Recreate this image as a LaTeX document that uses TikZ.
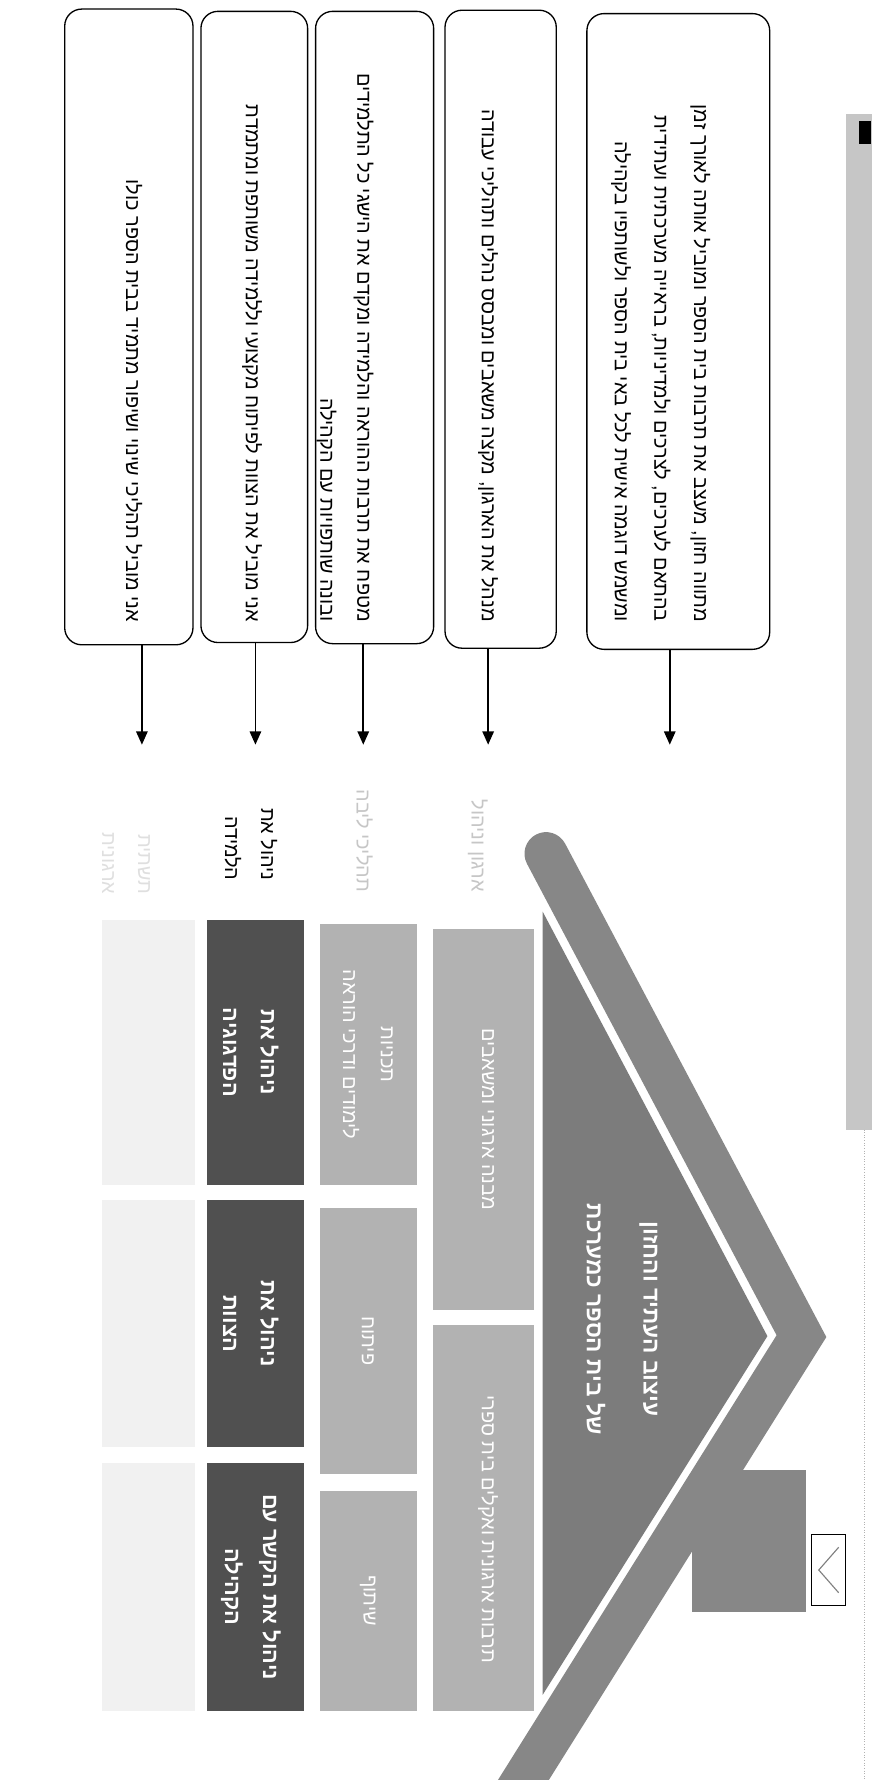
\documentclass[tikz,border=0pt]{standalone}
\usepackage{fontspec}
\newfontfamily\heb[Script=Hebrew]{Liberation Sans}
\TeXXeTstate=1
\usetikzlibrary{arrows.meta}
\definecolor{darkcell}{HTML}{505050}
\definecolor{lightcell}{HTML}{B2B2B2}
\definecolor{roofgray}{HTML}{878787}
\definecolor{ghost}{HTML}{F1F1F1}
\tikzset{
  tbox/.style={draw, rounded corners=9pt, line width=0.7pt, fill=white},
  btext/.style={rotate=-90, anchor=east, inner sep=0pt, align=right, font=\heb\fontsize{10.5}{19.5}\selectfont},
  cell/.style={inner sep=0pt, rotate=-90, align=center, text=white, font=\heb\bfseries\fontsize{11.5}{20}\selectfont},
  lbl/.style={rotate=-90, anchor=east, inner sep=0pt, align=right, font=\heb\fontsize{10.5}{19}\selectfont},
  arr/.style={-{Triangle[length=7pt,width=6pt]}, line width=0.9pt}
}
\begin{document}
\begin{tikzpicture}[x=0.6pt, y=-0.6pt]
\useasboundingbox (0,0) rectangle (770,1568);
% side bar and mark
\fill[gray!45] (745,100) rectangle (768,995);
\draw[gray!60, line width=0.4pt, densely dotted] (761,995) -- (761,1568);
\fill (757,107) rectangle (767,127);
% text boxes
\node[tbox, minimum width=113*0.6pt, minimum height=560*0.6pt] (b1) at (113.5,288) {};
\node[tbox, minimum width=94*0.6pt, minimum height=556*0.6pt] (b2) at (224,288) {};
\node[tbox, minimum width=104*0.6pt, minimum height=557*0.6pt] (b3) at (330,288.5) {};
\node[tbox, minimum width=98*0.6pt, minimum height=562*0.6pt] (b4) at (441,290) {};
\node[tbox, minimum width=161*0.6pt, minimum height=560*0.6pt] (b5) at (597.5,292) {};
\node[btext] (t1) at (118,548) {\beginR אני מוביל תהליכי שינוי ושיפור מתמיד בבית הספר כולו\endR};
\node[btext] (t2) at (222,548) {\beginR אני מוביל את הצוות לפיתוח מקצועי וללמידה משותפת ומתמדת\endR};
\node[btext] (t3) at (304,548) {\beginR מטפח את תרבות ההוראה והלמידה ומקדם את הישגי כל התלמידים\endR\\\beginR ובונה שותפויות עם הקהילה\endR};
\node[btext] (t4) at (430,548) {\beginR מנהל את הארגון, מקצה משאבים ומבסס נהלים ותהליכי עבודה\endR};
\node[btext, font=\heb\fontsize{10.5}{21}\selectfont] (t5) at (582,548) {\beginR מתווה חזון, מעצב את תרבות בית הספר ומוביל אותה לאורך זמן\endR\\\beginR בהתאם לערכים, לצרכים ולמדיניות, בראייה מערכתית ועתידית\endR\\\beginR ומשמש דוגמה אישית לכל באי בית הספר ולשותפיו בקהילה\endR};
% arrow ends
\coordinate (a1) at (125,656);
\coordinate (a2) at (225,656);
\coordinate (a3) at (320,656);
\coordinate (a4) at (430,656);
\coordinate (a5) at (590,656);
\draw[arr] (b1.south -| a1) -- (a1);
\draw[arr] (b2.south -| a2) -- (a2);
\draw[arr] (b3.south -| a3) -- (a3);
\draw[arr] (b4.south -| a4) -- (a4);
\draw[arr] (b5.south -| a5) -- (a5);
% ghost row
\fill[ghost] (90,810) rectangle (172,1044);
\fill[ghost] (90,1057) rectangle (172,1275);
\fill[ghost] (90,1289) rectangle (172,1507);
\node[lbl, text=gray!25] (g0) at (111,788) {\beginR תשתית\endR\\\beginR ארגונית\endR};
% dark row
\fill[darkcell] (182,810) rectangle (268,1044);
\fill[darkcell] (182,1057) rectangle (268,1275);
\fill[darkcell] (182,1289) rectangle (268,1507);
\node[cell] (d1) at (221,927) {\beginR ניהול את\endR\\\beginR הפדגוגיה\endR};
\node[cell] (d2) at (221,1166) {\beginR ניהול את\endR\\\beginR הצוות\endR};
\node[cell] (d3) at (221,1398) {\beginR ניהול את הקשר עם\endR\\\beginR הקהילה\endR};
\node[lbl] (l1) at (221,776) {\beginR ניהול את\endR\\\beginR הלמידה\endR};
% light rows
\fill[lightcell] (282,814) rectangle (367,1044);
\fill[lightcell] (282,1064) rectangle (367,1298);
\fill[lightcell] (282,1313) rectangle (367,1507);
\node[cell, font=\heb\fontsize{10.5}{20}\selectfont] (m1) at (324,929) {\beginR תכניות\endR\\\beginR לימודים ודרכי הוראה\endR};
\node[cell, font=\heb\fontsize{10.5}{20}\selectfont] (m2) at (324,1181) {\beginR פיתוח\endR};
\node[cell, font=\heb\fontsize{10.5}{20}\selectfont] (m3) at (324,1410) {\beginR שיתוף\endR};
\node[lbl, text=gray!45] (l2) at (321,786) {\beginR תהליכי ליבה\endR};
\fill[lightcell] (381,818) rectangle (470,1154);
\fill[lightcell] (381,1167) rectangle (470,1507);
\node[cell, font=\heb\fontsize{10.5}{20}\selectfont] (u1) at (430,986) {\beginR מבנה ארגוני ומשאבים\endR};
\node[cell, font=\heb\fontsize{10.5}{20}\selectfont] (u2) at (430,1347) {\beginR תרבות ארגונית ואקלים בית ספרי\endR};
\node[lbl, text=gray!45] (l3) at (421,786) {\beginR ארגון וניהול\endR};
% roof
\fill[roofgray] (610,1295) rectangle (710,1420);
\draw[roofgray, line width=38*0.6pt, line cap=round, line join=miter] (481,752) -- (706,1177) -- (441,1600);
\fill[roofgray!92!black] (478,803) -- (676,1177) -- (478,1493) -- cycle;
\node[cell, font=\heb\bfseries\fontsize{12}{30}\selectfont] (r1) at (548,1162) {\beginR עיצוב העתיד והחזון\endR\\\beginR של בית הספר כמערכת\endR};
% icon
\node[draw, fill=white, line width=0.5pt, minimum width=30*0.6pt, minimum height=63*0.6pt, inner sep=0pt] (ic) at (730,1383) {};
\draw[gray, line width=0.6pt] ([xshift=-4pt,yshift=12pt]ic.east) -- ([xshift=4pt]ic.west) -- ([xshift=-4pt,yshift=-12pt]ic.east);
\end{tikzpicture}
\end{document}
